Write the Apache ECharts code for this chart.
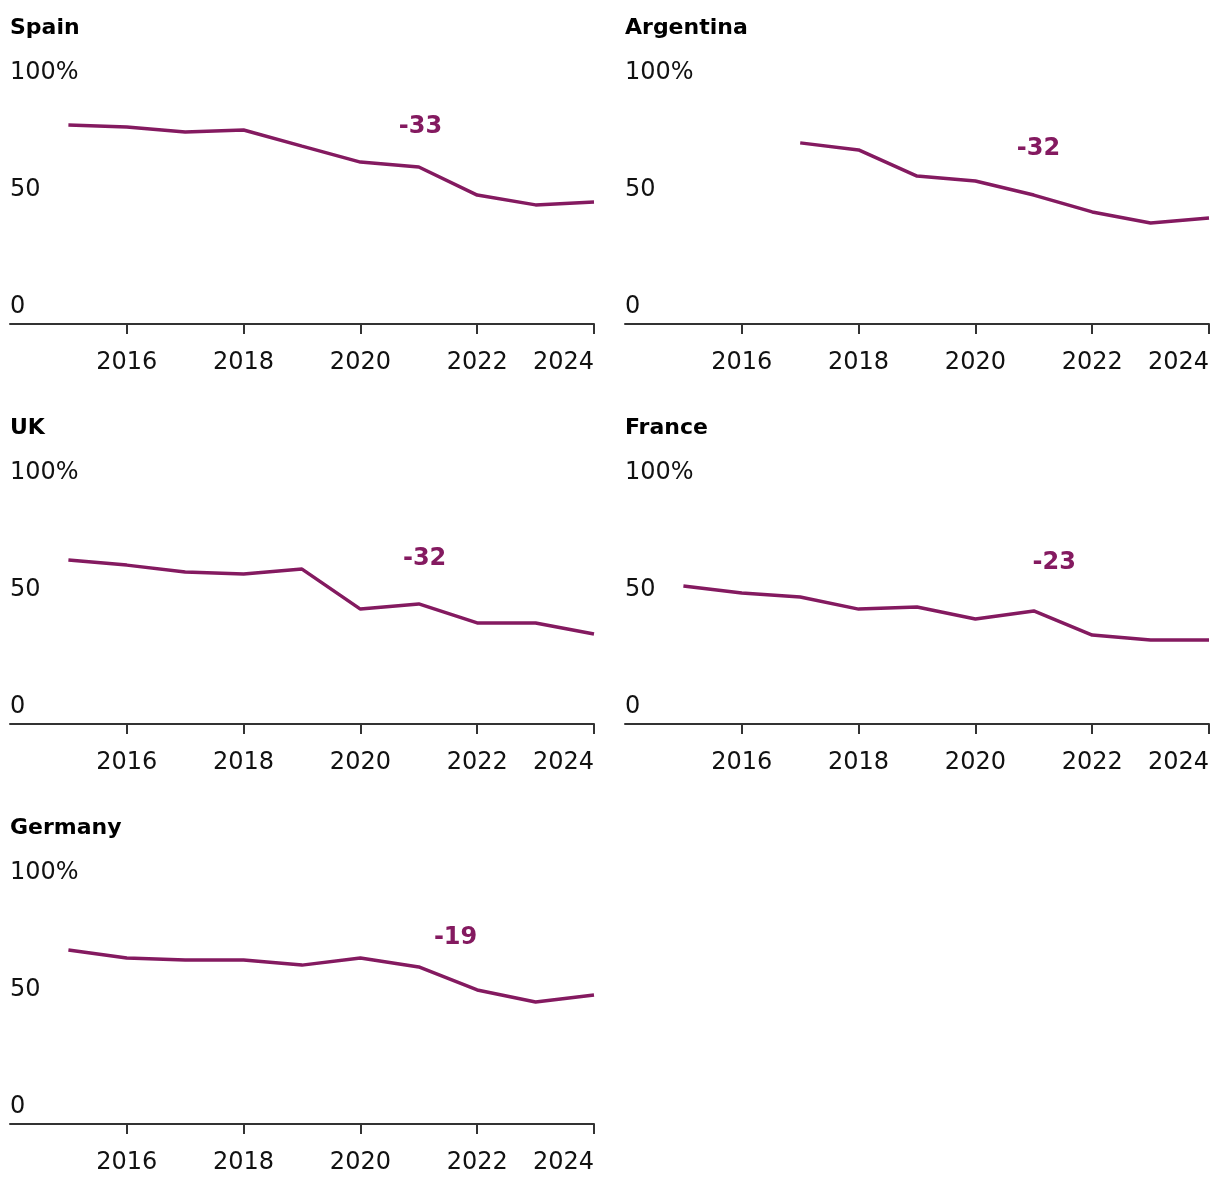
<!DOCTYPE html>
<html>
<head>
<meta charset="utf-8">
<script src="https://cdn.jsdelivr.net/npm/echarts@6/dist/echarts.min.js"></script>
<style>
html,body{margin:0;padding:0;background:#fff;}
#chart{width:1220px;height:1190px;}
</style>
</head>
<body>
<div id="chart"></div>
<script>
// ---- data ----
const countries = ["Spain", "Argentina", "UK", "France", "Germany"];
const years = [2015, 2016, 2017, 2018, 2019, 2020, 2021, 2022, 2023, 2024];
const spain     = [85.0, 84.2, 82.1, 82.9, 76.0, 69.2, 67.1, 55.1, 50.9, 52.1];
const argentina = [null, null, 77.4, 74.4, 63.2, 61.1, 55.1, 47.9, 43.2, 45.3];
const uk        = [70.1, 67.9, 65.0, 64.1, 66.2, 49.1, 51.3, 43.2, 43.2, 38.5];
const france    = [59.0, 56.0, 54.3, 49.1, 50.0, 44.9, 48.3, 38.0, 35.9, 35.9];
const germany   = [74.4, 70.9, 70.1, 70.1, 67.9, 70.9, 67.1, 57.3, 52.1, 55.1];
const changeLabels = ["-33", "-32", "-32", "-23", "-19"];
const changeLabelYear  = [2021.03, 2021.08, 2021.1, 2021.35, 2021.63];
const changeLabelValue = [84.4, 75.1, 70.4, 68.8, 79.7];
const xTickValues = [2016, 2018, 2020, 2022, 2024];
const yTickValues = [0, 50, 100];

const seriesValues = [spain, argentina, uk, france, germany];
const LINE = '#841a60';
const FONT = '"DejaVu Sans", "Noto Sans", sans-serif';

const grids = [], xAxes = [], yAxes = [], series = [], titles = [];
countries.forEach((name, i) => {
  const col = i % 2, row = Math.floor(i / 2);
  const left = col === 0 ? 10 : 625;
  const top = 90 + row * 400;
  grids.push({ left: left, top: top, width: 584, height: 234 });
  titles.push({
    text: name, left: left - 5, top: top - 78,
    textStyle: { fontFamily: FONT, fontSize: 22, fontWeight: 'bold', color: '#000' }
  });
  xAxes.push({
    type: 'value', gridIndex: i, min: 2014, max: 2024, interval: 2,
    axisLine: { show: true, lineStyle: { color: '#333', width: 2 } },
    axisTick: { show: true, length: 10, lineStyle: { color: '#333', width: 2 }, customValues: xTickValues },
    axisLabel: {
      customValues: xTickValues, margin: 27, color: '#111', fontFamily: FONT, fontSize: 24,
      alignMaxLabel: 'right', formatter: v => String(v)
    },
    splitLine: { show: false }
  });
  yAxes.push({
    type: 'value', gridIndex: i, min: 0, max: 100, interval: 50,
    axisLine: { show: false }, axisTick: { show: false }, splitLine: { show: false },
    axisLabel: {
      inside: true, margin: 0, verticalAlign: 'bottom', padding: [0, 0, 5, 0],
      color: '#111', fontFamily: FONT, fontSize: 24,
      customValues: yTickValues,
      formatter: v => v === 100 ? '100%' : String(v)
    }
  });
  const data = years.map((y, k) => [y, seriesValues[i][k]]).filter(d => d[1] !== null);
  series.push({
    type: 'line', xAxisIndex: i, yAxisIndex: i, data: data,
    symbol: 'none', lineStyle: { color: LINE, width: 3.5 }, silent: true,
    markPoint: {
      symbol: 'circle', symbolSize: 0,
      data: [{ coord: [changeLabelYear[i], changeLabelValue[i]], value: changeLabels[i] }],
      label: {
        show: true, position: 'inside', formatter: changeLabels[i],
        color: LINE, fontFamily: FONT, fontSize: 24, fontWeight: 'bold'
      }
    }
  });
});

const chart = echarts.init(document.getElementById('chart'), null, { renderer: 'canvas' });
chart.setOption({
  animation: false,
  backgroundColor: '#fff',
  title: titles,
  grid: grids,
  xAxis: xAxes,
  yAxis: yAxes,
  series: series
});
</script>
</body>
</html>
